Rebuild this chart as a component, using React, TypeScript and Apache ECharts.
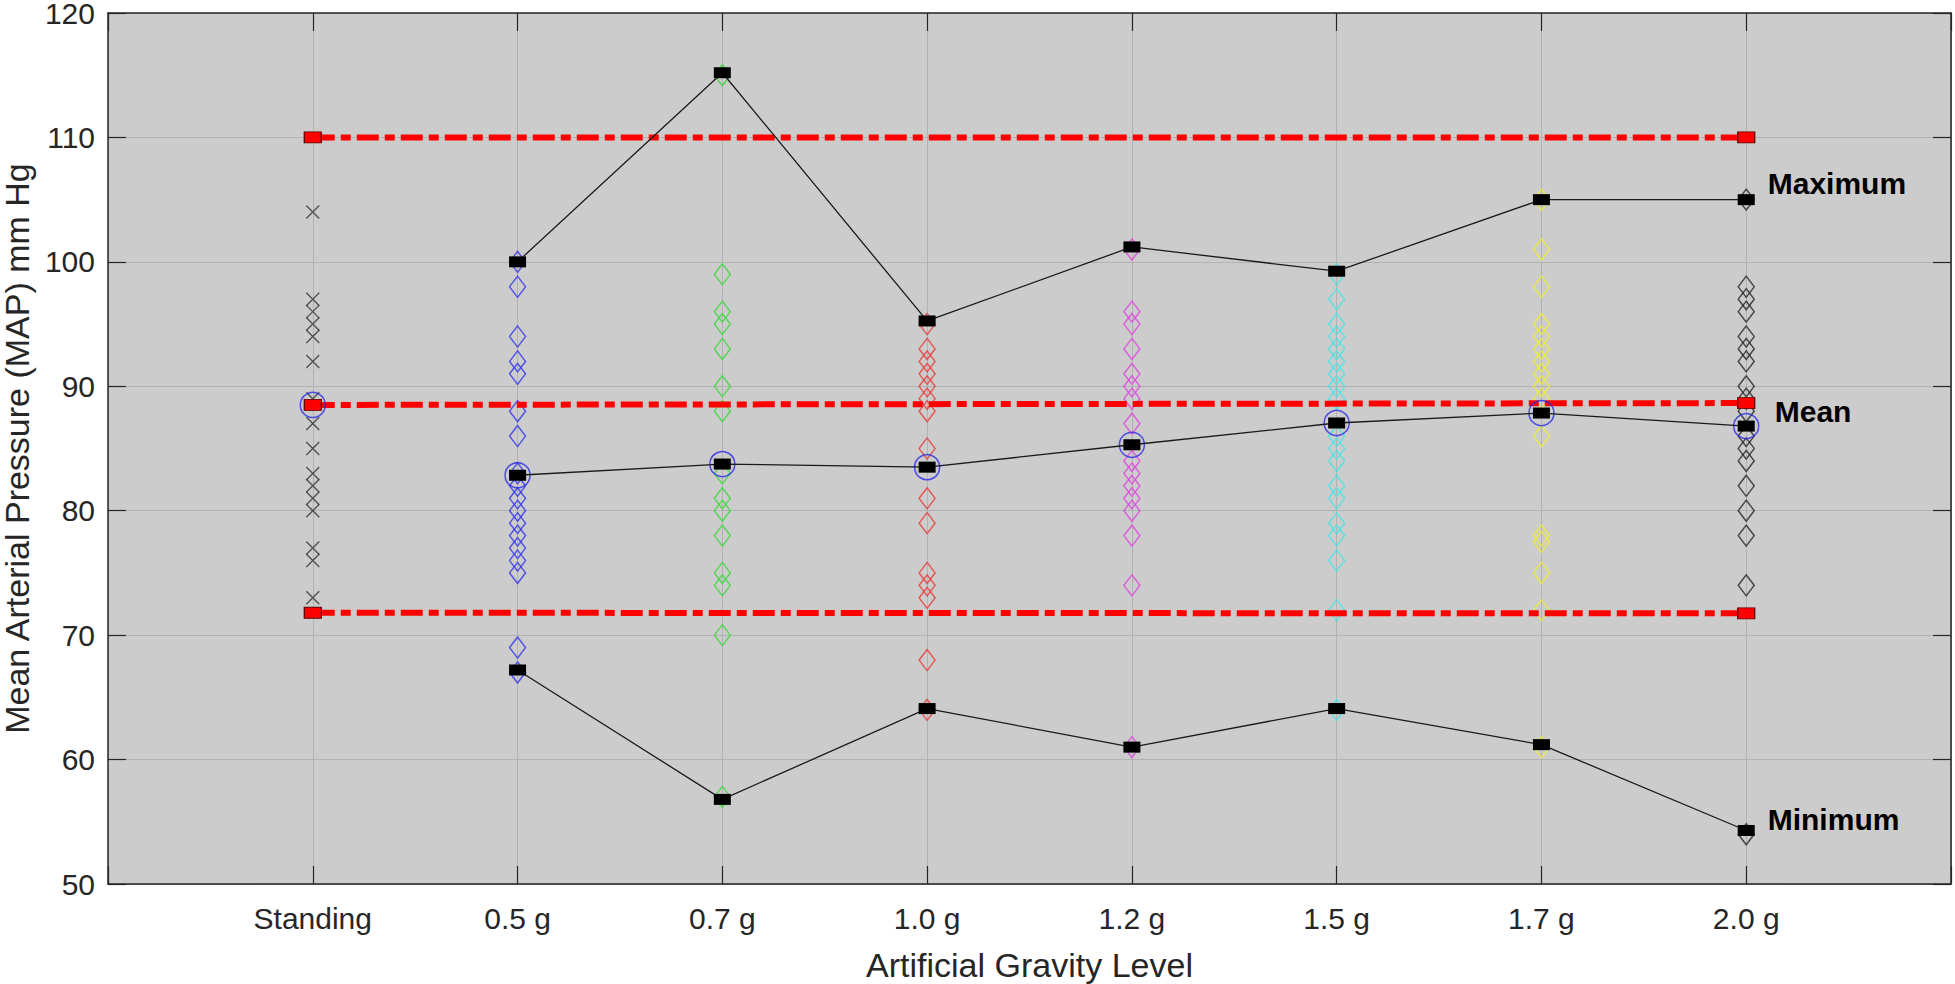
import React, { useEffect, useRef } from "react";
import * as echarts from "echarts";

const categories = ["Standing", "0.5 g", "0.7 g", "1.0 g", "1.2 g", "1.5 g", "1.7 g", "2.0 g"];
const yTicks = [50, 60, 70, 80, 90, 100, 110, 120];

const standingValues = [104, 97, 96, 95, 94, 92, 89, 87, 85, 83, 82, 81, 80, 77, 76, 73];
const g05Values = [100, 98, 94, 92, 91, 88, 86, 83, 82, 81, 80, 79, 78, 77, 76, 75, 69, 67];
const g07Values = [115, 99, 96, 95, 93, 90, 88, 83, 81, 80, 78, 75, 74, 70, 57];
const g10Values = [95, 93, 92, 91, 90, 89, 88, 85, 81, 79, 75, 74, 73, 68, 64];
const g12Values = [101, 96, 95, 93, 91, 90, 89, 87, 84, 83, 82, 81, 80, 78, 74, 61];
const g15Values = [99, 97, 95, 94, 93, 92, 91, 90, 89, 86, 85, 84, 82, 81, 79, 78, 76, 72, 64];
const g17Values = [105, 101, 98, 95, 94, 93, 92, 91, 90, 89, 86, 78, 77.5, 75, 72, 61];
const g20Values = [105, 98, 97, 96, 94, 93, 92, 90, 89, 88, 86, 85, 84, 82, 80, 78, 74, 54];

const maxValues = [100, 115.2, 95.25, 101.2, 99.25, 105, 105];
const meanValues = [88.5, 82.85, 83.75, 83.5, 85.3, 87.05, 87.85, 86.8];
const minValues = [67.2, 56.8, 64.1, 61.0, 64.1, 61.2, 54.3];

const refMax = [110, 110];
const refMean = [88.5, 88.65];
const refMin = [71.8, 71.75];

const FONT = "'Liberation Sans', Arial, Helvetica, sans-serif";
const AXIS_COLOR = "#262626";

export default function App() {
  const ref = useRef<HTMLDivElement>(null);

  useEffect(() => {
    if (!ref.current) return;
    const chart = echarts.init(ref.current, undefined, { renderer: "svg" });

    const diamond = (values: number[], pos: number, color: string) => ({
      type: "scatter",
      z: 2,
      symbol: "diamond",
      symbolSize: [16, 21],
      itemStyle: { color: "rgba(0,0,0,0)", borderColor: color, borderWidth: 1.5 },
      data: values.map((v) => [pos, v]),
    });

    const refLine = (vals: number[]) => ({
      type: "line",
      z: 3,
      data: [
        [1, vals[0]],
        [8, vals[1]],
      ],
      symbol: "rect",
      symbolSize: [17, 11],
      showSymbol: true,
      lineStyle: { color: "#ff0000", width: 6, type: [22, 6, 10, 6] },
      itemStyle: { color: "#ff0000", borderColor: "#5a0000", borderWidth: 1 },
    });

    const blackLine = (vals: number[], label: string, offset: number[]) => ({
      type: "line",
      z: 5,
      data: vals.map((v, i) => {
        const p = [i + 2, v];
        if (i === vals.length - 1) {
          return {
            value: p,
            label: {
              show: true,
              formatter: label,
              position: "right",
              distance: offset[0],
              offset: [0, offset[1]],
              fontSize: 30,
              fontWeight: "bold",
              color: "#000",
              fontFamily: FONT,
            },
          };
        }
        return p;
      }),
      symbol: "rect",
      symbolSize: [17, 11],
      showSymbol: true,
      lineStyle: { color: "#1a1a1a", width: 1.3 },
      itemStyle: { color: "#000" },
    });

    const xAxisBase = {
      type: "value",
      min: 0,
      max: 9,
      interval: 1,
      axisLine: { show: true, onZero: false, lineStyle: { color: AXIS_COLOR, width: 1.5 } },
      axisTick: { show: true, inside: true, length: 18, lineStyle: { color: AXIS_COLOR, width: 1.2 } },
    };
    const yAxisBase = {
      type: "value",
      min: 50,
      max: 120,
      interval: 10,
      axisLine: { show: true, onZero: false, lineStyle: { color: AXIS_COLOR, width: 1.5 } },
      axisTick: { show: true, inside: true, length: 18, lineStyle: { color: AXIS_COLOR, width: 1.2 } },
    };

    chart.setOption({
      animation: false,
      backgroundColor: "#ffffff",
      textStyle: { fontFamily: FONT },
      grid: {
        left: 108,
        right: 4,
        top: 13,
        bottom: 100,
        show: true,
        backgroundColor: "#cccccc",
        borderWidth: 0,
        containLabel: false,
        outerBoundsMode: "none",
      },
      xAxis: [
        {
          ...xAxisBase,
          position: "bottom",
          axisLabel: {
            formatter: (v: number) => categories[v - 1] ?? "",
            fontSize: 30,
            color: AXIS_COLOR,
            margin: 19,
            fontFamily: FONT,
          },
          splitLine: { show: true, lineStyle: { color: "#b2b2b2", width: 1 } },
          name: "Artificial Gravity Level",
          nameLocation: "middle",
          nameGap: 64,
          nameTextStyle: { fontSize: 34, color: AXIS_COLOR, fontFamily: FONT },
        },
        {
          ...xAxisBase,
          position: "top",
          axisLabel: { show: false },
          splitLine: { show: false },
        },
      ],
      yAxis: [
        {
          ...yAxisBase,
          position: "left",
          axisLabel: {
            formatter: (v: number) => (yTicks.includes(v) ? String(v) : ""),
            fontSize: 30,
            lineHeight: 24,
            padding: [6, 0, 0, 0],
            color: AXIS_COLOR,
            margin: 13,
            fontFamily: FONT,
          },
          splitLine: { show: true, lineStyle: { color: "#b2b2b2", width: 1 } },
          name: "Mean Arterial Pressure (MAP) mm Hg",
          nameLocation: "middle",
          nameGap: 64,
          nameTextStyle: { fontSize: 34, lineHeight: 30, color: AXIS_COLOR, fontFamily: FONT },
        },
        {
          ...yAxisBase,
          position: "right",
          axisLabel: { show: false },
          splitLine: { show: false },
        },
      ],
      series: [
        {
          type: "scatter",
          z: 2,
          symbol: "path://M0,0L10,10M10,0L0,10",
          symbolSize: 13,
          itemStyle: { color: "rgba(0,0,0,0)", borderColor: "#333333", borderWidth: 1.4 },
          data: standingValues.map((v) => [1, v]),
        },
        diamond(g05Values, 2, "#3535ee"),
        diamond(g07Values, 3, "#3cd83c"),
        diamond(g10Values, 4, "#e63c3c"),
        diamond(g12Values, 5, "#e045e0"),
        diamond(g15Values, 6, "#45e6e6"),
        diamond(g17Values, 7, "#eeee30"),
        diamond(g20Values, 8, "#262626"),
        {
          type: "scatter",
          z: 3,
          symbol: "circle",
          symbolSize: 25,
          itemStyle: { color: "rgba(0,0,0,0)", borderColor: "#2a2ae6", borderWidth: 1.5 },
          data: meanValues.map((v, i) => [i + 1, v]),
        },
        refLine(refMax),
        refLine(refMean),
        refLine(refMin),
        blackLine(maxValues, "Maximum", [13, -16]),
        blackLine(meanValues.slice(1), "Mean", [20, -15]),
        blackLine(minValues, "Minimum", [13, -11]),
      ],
    });

    return () => chart.dispose();
  }, []);

  return (
    <div
      ref={ref}
      style={{ position: "absolute", left: 0, top: 0, width: 1955, height: 984 }}
    />
  );
}
